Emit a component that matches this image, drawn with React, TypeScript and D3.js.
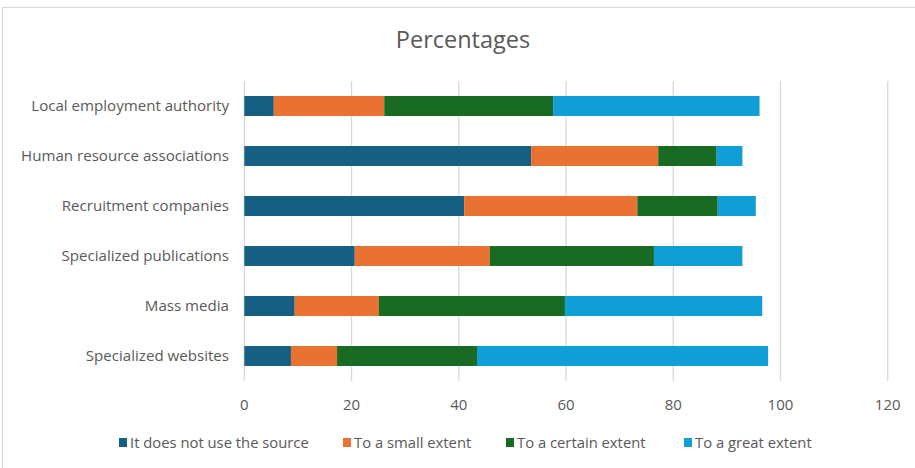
import React from "react";
import * as d3 from "d3";

const categories = [
  "Local employment authority",
  "Human resource associations",
  "Recruitment companies",
  "Specialized publications",
  "Mass media",
  "Specialized websites",
];
const seriesNames = [
  "It does not use the source",
  "To a small extent",
  "To a certain extent",
  "To a great extent",
];
const notUse = [5.5, 53.5, 41.0, 20.6, 9.4, 8.7];
const smallExtent = [20.6, 23.7, 32.3, 25.2, 15.7, 8.6];
const certainExtent = [31.5, 10.9, 15.0, 30.6, 34.7, 26.1];
const greatExtent = [38.5, 4.8, 7.1, 16.5, 36.8, 54.3];
const xTicks = [0, 20, 40, 60, 80, 100, 120];
const colors = ["#156082", "#E97132", "#196B24", "#0F9ED5"];

const W = 915;
const H = 468;
const FONT = "'Open Sans', 'Liberation Sans', sans-serif";
const TEXT = "#595959";

export default function App() {
  const rows = categories.map((c, i) => ({
    cat: c,
    s0: notUse[i],
    s1: smallExtent[i],
    s2: certainExtent[i],
    s3: greatExtent[i],
  }));
  const stack = d3.stack<any>().keys(["s0", "s1", "s2", "s3"])(rows);

  const x = d3.scaleLinear().domain([0, 120]).range([244.3, 887.7]);
  const y = d3
    .scaleBand<string>()
    .domain(categories)
    .range([81, 381])
    .paddingInner(0.6)
    .paddingOuter(0.3);

  const legendX = [123, 347, 510, 688];

  return (
    <svg
      width={W}
      height={H}
      style={{ position: "absolute", left: 0, top: 0, background: "#fff" }}
      fontFamily={FONT}
    >
      <rect x={2.5} y={7.5} width={W + 10} height={H + 10} fill="#fff" stroke="#d9d9d9" />
      <text x={463} y={48} textAnchor="middle" fontSize={23.5} fill={TEXT}>
        Percentages
      </text>
      {xTicks.map((t) => (
        <line
          key={t}
          x1={x(t)}
          x2={x(t)}
          y1={81}
          y2={381}
          stroke="#d9d9d9"
          strokeWidth={1.3}
        />
      ))}
      {stack.map((layer, li) => (
        <g key={li} fill={colors[li]}>
          {layer.map((d, i) => (
            <rect
              key={i}
              x={x(d[0])}
              width={x(d[1]) - x(d[0])}
              y={y(categories[i])}
              height={y.bandwidth()}
            />
          ))}
        </g>
      ))}
      {categories.map((c) => (
        <text
          key={c}
          x={229}
          y={(y(c) as number) + y.bandwidth() / 2}
          dy="0.35em"
          textAnchor="end"
          fontSize={15.1}
          fill={TEXT}
        >
          {c}
        </text>
      ))}
      {xTicks.map((t) => (
        <text key={t} x={x(t)} y={405} dy="0.35em" textAnchor="middle" fontSize={15} fill={TEXT}>
          {t}
        </text>
      ))}
      {seriesNames.map((s, i) => (
        <g key={s}>
          <rect x={legendX[i] - 4} y={438} width={8} height={9} fill={colors[i]} />
          <text x={legendX[i] + 7} y={443} dy="0.35em" fontSize={14.8} fill={TEXT}>
            {s}
          </text>
        </g>
      ))}
    </svg>
  );
}
